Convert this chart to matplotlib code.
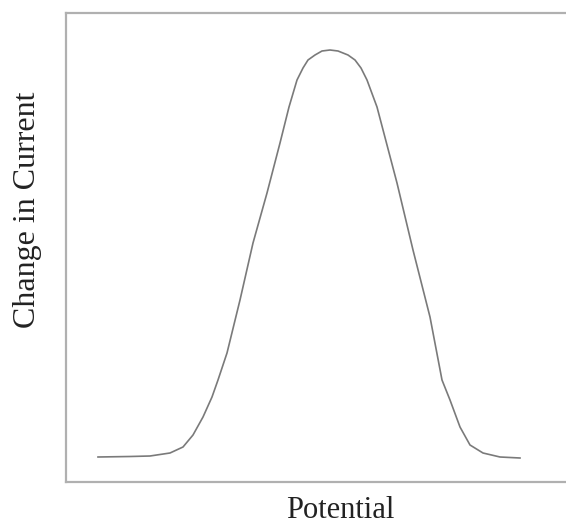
import matplotlib.pyplot as plt

# Voltammetric peak: change in current vs applied potential (arbitrary units)
potential = [32, 64, 84, 104, 117, 127, 137, 146, 152, 161, 174, 187, 201, 214,
             223, 231, 237, 242, 249, 256, 264, 272, 282, 289, 295, 301, 311,
             331, 347, 364, 376, 384, 394, 404, 417, 434, 454]
current = [25, 25.5, 26, 29, 35, 47, 65, 85, 102, 129, 182, 239, 289, 339,
           375, 402, 414, 422, 427, 431, 432, 431, 427, 422, 414, 402, 375,
           299, 232, 165, 102, 82, 55, 37, 29, 25, 24]

plt.rcParams['font.family'] = ['Liberation Serif', 'DejaVu Serif']

fig = plt.figure(figsize=(5.66, 5.25), dpi=100)
ax = fig.add_axes([66 / 566, 43 / 525, 504 / 566, 469 / 525])
ax.plot(potential, current, color="#7a7a7a", linewidth=1.2,
        solid_joinstyle="round")

ax.set_xlim(0, 504)
ax.set_ylim(0, 469)
ax.set_xticks([])
ax.set_yticks([])
for side in ax.spines.values():
    side.set_color("#b0b0b0")
    side.set_linewidth(1.6)

fig.text(340 / 566, 1 - 518 / 525, "Potential", fontsize=22,
         ha="center", va="baseline", color="#222222")
fig.text(28 / 566, 1 - 328 / 525, "Change in Current", fontsize=23,
         rotation=90, ha="center", va="bottom", color="#222222")

plt.savefig("out.png")
